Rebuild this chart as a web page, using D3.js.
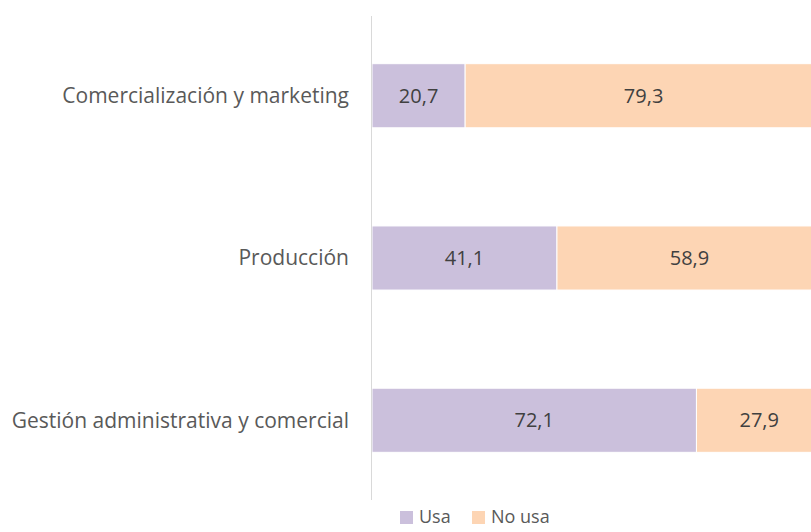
<!DOCTYPE html>
<html>
<head>
<meta charset="utf-8">
<script src="https://cdn.jsdelivr.net/npm/d3@7"></script>
<style>
  body { margin: 0; background: #fff; }
  text { font-family: "Open Sans", sans-serif; }
</style>
</head>
<body>
<div id="chart"></div>
<script>
const categories = ['Comercialización y marketing', 'Producción', 'Gestión administrativa y comercial'];
const usa = [20.7, 41.1, 72.1];
const noUsa = [79.3, 58.9, 27.9];
const seriesNames = ['Usa', 'No usa'];

const width = 811, height = 532;
const colors = ['#CBC0DC', '#FDD5B4'];

const rows = categories.map((c, i) => ({ cat: c, Usa: usa[i], 'No usa': noUsa[i] }));
const stacked = d3.stack().keys(seriesNames)(rows);

const x = d3.scaleLinear().domain([0, 100]).range([372, 822]);
const y = d3.scaleBand().domain(categories).range([15, 501]).paddingInner(0.605).paddingOuter(0.3);

const svg = d3.select('#chart').append('svg')
    .attr('width', width)
    .attr('height', height);

const fmt = v => d3.format('.1f')(v).replace('.', ',');

const layer = svg.selectAll('g.series')
    .data(stacked).enter()
    .append('g')
    .attr('class', 'series')
    .attr('fill', (d, i) => colors[i]);

layer.selectAll('rect')
    .data(d => d).enter()
    .append('rect')
    .attr('x', d => x(d[0]))
    .attr('y', d => y(d.data.cat))
    .attr('width', d => x(d[1]) - x(d[0]))
    .attr('height', y.bandwidth())
    .attr('stroke', '#fff')
    .attr('stroke-width', 1);

layer.selectAll('text')
    .data(d => d).enter()
    .append('text')
    .attr('x', d => (x(d[0]) + x(d[1])) / 2)
    .attr('y', d => y(d.data.cat) + y.bandwidth() / 2)
    .attr('dy', '0.35em')
    .attr('text-anchor', 'middle')
    .attr('fill', '#404040')
    .attr('font-size', 20)
    .text(d => fmt(d[1] - d[0]));

// category axis
svg.append('line')
    .attr('x1', 371.5).attr('x2', 371.5)
    .attr('y1', 16).attr('y2', 500)
    .attr('stroke', '#d9d9d9');

svg.selectAll('text.cat')
    .data(categories).enter()
    .append('text')
    .attr('class', 'cat')
    .attr('x', 349)
    .attr('y', d => y(d) + y.bandwidth() / 2)
    .attr('dy', '0.35em')
    .attr('text-anchor', 'end')
    .attr('fill', '#595959')
    .attr('font-size', 21)
    .text(d => d);

// legend
const legendX = [400, 472];
const legend = svg.selectAll('g.legend')
    .data(seriesNames).enter()
    .append('g')
    .attr('class', 'legend')
    .attr('transform', (d, i) => `translate(${legendX[i]},511)`);

legend.append('rect')
    .attr('width', 13).attr('height', 13)
    .attr('fill', (d, i) => colors[i]);

legend.append('text')
    .attr('x', 19).attr('y', 6)
    .attr('dy', '0.35em')
    .attr('fill', '#595959')
    .attr('font-size', 18)
    .text(d => d);
</script>
</body>
</html>
